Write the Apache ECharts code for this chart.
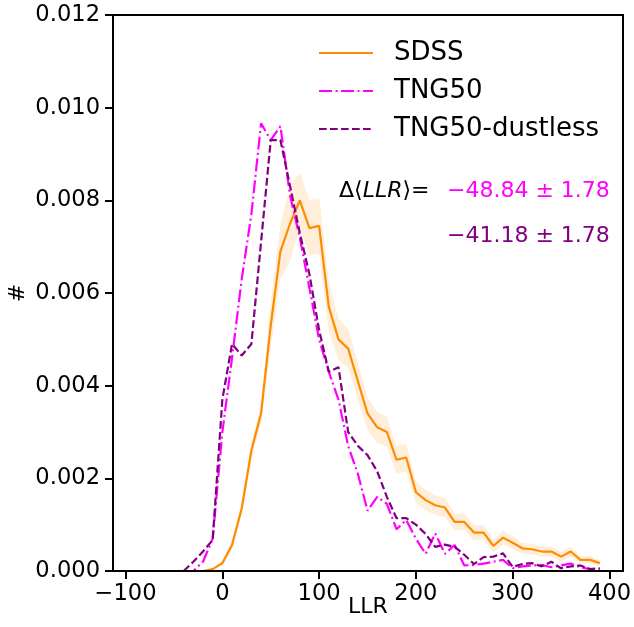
<!DOCTYPE html>
<html><head><meta charset="utf-8">
<script src="https://cdn.jsdelivr.net/npm/echarts@6/dist/echarts.min.js"></script>
<style>html,body{margin:0;padding:0;background:#fff}#c{width:634px;height:627px}</style>
</head><body><div id="c"></div>
<script>
// bin centres (LLR)
const llr = [-40,-30,-20,-10,0,10,20,30,40,50,60,70,80,90,100,110,120,130,140,150,160,170,180,190,200,210,220,230,240,250,260,270,280,290,300,310,320,330,340,350,360,370,380,390];
// SDSS histogram
const sdss = [0,0,0,0.00004,0.00017,0.00056,0.00135,0.0026,0.0034,0.0053,0.0069,0.0075,0.0080,0.0074,0.00745,0.0057,0.0050,0.0048,0.0041,0.0034,0.0031,0.0030,0.0024,0.00245,0.0017,0.00153,0.00142,0.00137,0.00106,0.00106,0.00083,0.00083,0.00054,0.00072,0.00061,0.00049,0.00047,0.00042,0.00042,0.00031,0.00042,0.00024,0.00024,0.00017];
// SDSS uncertainty (half width of shaded band)
const sdssErr = [0,0,0,0.00002,0.00004,0.00008,0.00012,0.00017,0.0002,0.0005,0.0006,0.0008,0.0006,0.0006,0.0006,0.00055,0.00045,0.00042,0.0004,0.00035,0.00033,0.00032,0.0003,0.0003,0.00024,0.00022,0.00021,0.0002,0.00018,0.00018,0.00016,0.00016,0.00013,0.00015,0.00014,0.00012,0.00012,0.00011,0.00011,0.0001,0.00011,0.00008,0.00008,0.00007];
// TNG50 histogram
const tng50 = [0,0,0.0002,0.0007,0.0030,0.0046,0.0063,0.0077,0.00966,0.0093,0.0096,0.0081,0.0072,0.0061,0.0050,0.0043,0.0037,0.0027,0.0021,0.0013,0.0016,0.00145,0.0009,0.0011,0.0007,0.00037,0.00081,0.00037,0.00056,0.00012,0.00013,0.00016,0.0002,0.00024,0.00006,0.0001,0.00012,0.00013,0.00008,0.00012,0.00016,0.00008,0.00004,0.00004];
// TNG50-dustless histogram
const tngDustless = [0,0.0002,0.00042,0.00067,0.0037,0.0049,0.00465,0.0049,0.0071,0.0093,0.0093,0.0083,0.0073,0.0064,0.0052,0.0043,0.0044,0.0030,0.0027,0.0025,0.00215,0.0016,0.00114,0.00114,0.0010,0.0008,0.00052,0.00057,0.00052,0.00035,0.00015,0.0003,0.00031,0.00038,0.00009,0.00015,0.00017,0.0001,0.0002,0.00006,0.0001,0.00012,0.00004,0.00006];
// tick labels
const xTicks = [-100,0,100,200,300,400];
const seriesNames = ['SDSS','TNG50','TNG50-dustless'];
const deltaLabel = 'LLR';
const deltaTng50 = '\u221248.84 \u00b1 1.78';
const deltaDustless = '\u221241.18 \u00b1 1.78';

const FONT = 'DejaVu Sans';
const chart = echarts.init(document.getElementById('c'), null, {renderer:'canvas'});
const pair = arr => llr.map((x,i)=>[x, arr[i]]);
const bandUpper = llr.map((x,i)=>[x, sdss[i]+sdssErr[i]]);
const bandLower = llr.map((x,i)=>[x, Math.max(0, sdss[i]-sdssErr[i])]);
const minus = v => String(v).replace('-', '\u2212');

const option = {
  animation:false,
  backgroundColor:'#fff',
  grid:{left:113,right:11,top:15,bottom:56,outerBoundsMode:'none',containLabel:false,show:true,borderColor:'#000',borderWidth:2,backgroundColor:'transparent'},
  xAxis:{type:'value',min:-113,max:414,z:10,
    splitLine:{show:false},
    axisLine:{show:true,onZero:false,lineStyle:{color:'#000',width:2}},
    axisTick:{show:true,customValues:xTicks,length:8,lineStyle:{color:'#000',width:2}},
    axisLabel:{customValues:xTicks,formatter:minus,color:'#000',fontSize:22.6,fontFamily:FONT,margin:12},
    name:'LLR',nameLocation:'middle',nameGap:36,nameMoveOverlap:false,
    nameTextStyle:{color:'#000',fontSize:22,fontFamily:FONT,verticalAlign:'middle'}},
  yAxis:{type:'value',min:0,max:0.012,interval:0.002,z:10,
    splitLine:{show:false},
    axisLine:{show:true,onZero:false,lineStyle:{color:'#000',width:2}},
    axisTick:{show:true,length:8,lineStyle:{color:'#000',width:2}},
    axisLabel:{formatter:v=>v.toFixed(3),color:'#000',fontSize:22.6,fontFamily:FONT,margin:13},
    name:'#',nameLocation:'middle',nameGap:95,nameMoveOverlap:false,
    nameTextStyle:{color:'#000',fontSize:22,fontFamily:FONT,verticalAlign:'middle'}},
  legend:{data:seriesNames,orient:'vertical',left:318,top:40,itemWidth:54,itemHeight:14,itemGap:12,padding:0,
    itemStyle:{opacity:0},
    textStyle:{color:'#000',fontSize:26,fontFamily:FONT,padding:[0,0,0,16]}},
  series:[
    {name:'bandUpper',type:'line',data:bandUpper,symbol:'none',silent:true,lineStyle:{opacity:0},areaStyle:{color:'#ffeed9',opacity:1},z:1},
    {name:'bandLower',type:'line',data:bandLower,symbol:'none',silent:true,lineStyle:{opacity:0},areaStyle:{color:'#ffffff',opacity:1},z:1},
    {name:seriesNames[0],type:'line',data:pair(sdss),symbol:'none',color:'#ff8c00',lineStyle:{color:'#ff8c00',width:2.2},z:3},
    {name:seriesNames[1],type:'line',data:pair(tng50),symbol:'none',color:'#ff00ff',lineStyle:{color:'#ff00ff',width:2.2,type:[13,3.5,2,3.5]},z:3},
    {name:seriesNames[2],type:'line',data:pair(tngDustless),symbol:'none',color:'#800080',lineStyle:{color:'#800080',width:2.2,type:[7.7,3.3]},z:3}
  ],
  graphic:[
    {type:'text',left:339,top:180,style:{text:'{a|\u0394\u27e8}{i|'+deltaLabel+'}{a|\u27e9=}',rich:{a:{fontSize:22,fontFamily:FONT,fill:'#000'},i:{fontSize:22,fontFamily:FONT,fontStyle:'italic',fill:'#000'}}}},
    {type:'text',left:447,top:180,style:{text:deltaTng50,fontSize:22,fontFamily:FONT,fill:'#ff00ff'}},
    {type:'text',left:447,top:225,style:{text:deltaDustless,fontSize:22,fontFamily:FONT,fill:'#800080'}}
  ]
};
chart.setOption(option);
</script></body></html>
